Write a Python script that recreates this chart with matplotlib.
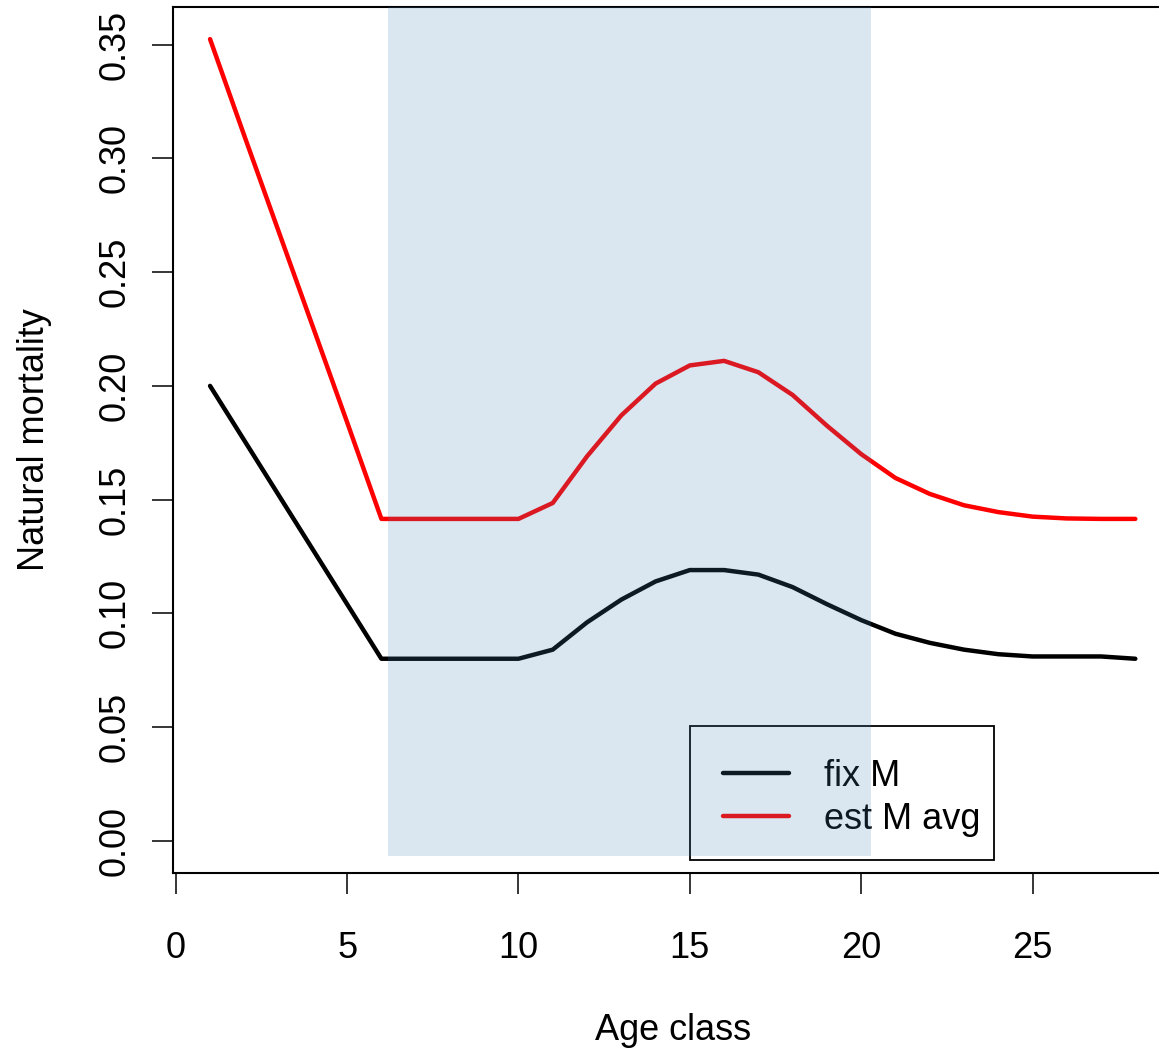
import matplotlib
matplotlib.use("Agg")
import matplotlib.pyplot as plt
from matplotlib.patches import Rectangle

plt.rcParams['font.family'] = ['Liberation Sans', 'DejaVu Sans']

# age classes and natural mortality at age
age = list(range(1, 29))
fix_m = [0.200, 0.176, 0.152, 0.128, 0.104, 0.080, 0.080, 0.080, 0.080, 0.080,
         0.084, 0.096, 0.106, 0.114, 0.119, 0.119, 0.117, 0.1115, 0.104, 0.097,
         0.091, 0.087, 0.084, 0.082, 0.081, 0.081, 0.081, 0.080]
est_m = [0.3525, 0.310, 0.268, 0.226, 0.184, 0.1415, 0.1415, 0.1415, 0.1415, 0.1415,
         0.1485, 0.169, 0.187, 0.201, 0.209, 0.211, 0.206, 0.196, 0.1825, 0.170,
         0.1595, 0.1525, 0.1475, 0.1445, 0.1425, 0.1417, 0.1415, 0.1415]
series_labels = ['fix M', 'est M avg']

# age range highlighted
shade_x = (6.2, 20.3)

W, H = 1159, 1054
fig = plt.figure(figsize=(W / 100, H / 100), dpi=100)
ax = fig.add_axes([0.1493, 0.1720, 0.8622, 0.8213])

ax.plot(age, fix_m, color='black', lw=3.2, solid_capstyle='round', zorder=2)
ax.plot(age, est_m, color='red', lw=3.2, solid_capstyle='round', zorder=2)

ax.set_xlim(-0.08, 29.08)
ax.set_ylim(-0.0141, 0.3666)
ax.add_patch(Rectangle((shade_x[0], -0.0069), shade_x[1] - shade_x[0], 0.40,
                       facecolor='steelblue', alpha=0.2, edgecolor='none', zorder=3))

ax.set_xticks([0, 5, 10, 15, 20, 25])
ax.set_yticks([0.00, 0.05, 0.10, 0.15, 0.20, 0.25, 0.30, 0.35])
ax.set_yticklabels(['%.2f' % v for v in ax.get_yticks()], rotation=90, va='center')
ax.tick_params(axis='both', length=15, width=1.1, labelsize=26, direction='out')
ax.tick_params(axis='x', pad=27)
ax.tick_params(axis='y', pad=14)
for s in ax.spines.values():
    s.set_linewidth(1.5)

ax.set_xlabel('Age class', fontsize=26, labelpad=34)
ax.set_ylabel('Natural mortality', fontsize=26, labelpad=33)

# legend box drawn by hand (R-style), legend entries without frame
ax.add_patch(Rectangle((690 / W, 1 - 860 / H), 304 / W, 134 / H,
                       transform=fig.transFigure, facecolor='white', edgecolor='black',
                       lw=1.3, zorder=2.4, clip_on=False))
leg = ax.legend(series_labels, loc='upper left',
                bbox_to_anchor=(690 / W, 1 - 726 / H),
                bbox_transform=fig.transFigure, borderaxespad=0,
                fontsize=26, handlelength=1.85, handletextpad=0.95, borderpad=0.9,
                labelspacing=0.23, frameon=False)
leg.set_zorder(2.5)

fig.savefig('out.png', dpi=100)
